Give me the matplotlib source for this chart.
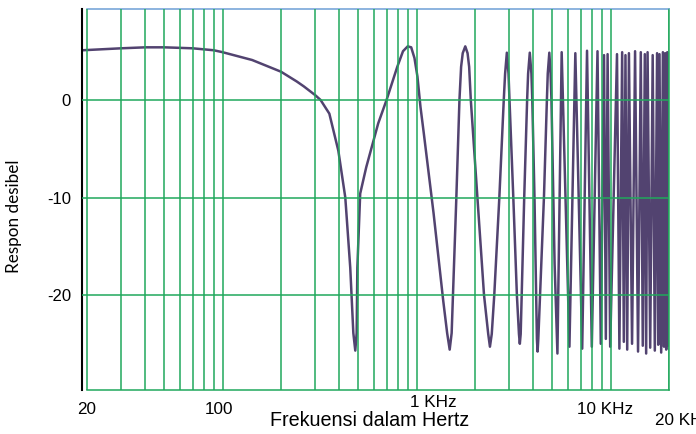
import matplotlib
matplotlib.use('Agg')
import matplotlib.pyplot as plt
from matplotlib.ticker import NullLocator

# response curve (Hz, dB)
freq_hz = [19, 30, 40, 50, 70, 90, 100, 142, 200, 241, 262, 300, 320, 355, 395,
           429, 455, 472, 483, 491, 495, 512, 550, 634, 700, 795, 851, 900, 938,
           975, 1010, 1047, 1089, 1223, 1372, 1437, 1481, 1516, 1601, 1663, 1696,
           1729, 1782, 1831, 1866, 1903, 2058, 2226, 2340, 2388, 2440,
           2514, 2670, 2814, 2859, 2919, 2977, 3012, 3150, 3288, 3370, 3405, 3440,
           3588, 3713, 3757, 3832, 3907, 3948, 4051, 4170, 4204, 4240,
           4535, 4695, 4743, 4832, 4905, 4956, 5145, 5320,
           5595, 6135, 6580, 7140, 7560, 8000, 8560, 8900, 9250, 9450, 9650,
           9950, 10790, 11100, 11470, 11700, 11930, 12180, 12430, 12900, 13370,
           13850, 14310, 14650, 15010, 15250, 15510, 16000, 16480, 16900, 17360,
           17600, 17870, 18230, 18600, 18850, 19120, 19350, 19590, 19800, 19950]
resp_db = [5.1, 5.3, 5.4, 5.4, 5.3, 5.1, 4.9, 4.1, 2.9, 1.9, 1.4, 0.5, 0.0, -1.4, -5.2,
           -10.0, -17.2, -23.9, -25.7, -23.9, -17.2, -9.6, -6.9, -2.4, 0.0, 3.4, 5.0, 5.5, 5.4,
           4.3, 2.4, -0.7, -3.4, -11.6, -20.6, -23.9, -25.6, -23.9, -10.3, 0.0, 3.4,
           4.8, 5.5, 4.8, 3.4, 0.0, -10.0, -20.0, -24.0, -25.3, -24.0,
           -20.0, -10.0, 0.0, 2.7, 4.85, 2.7, 0.0, -9.9, -20.0, -24.0, -25.0, -24.0,
           -9.9, 0.0, 2.7, 4.85, 2.7, 0.0, -9.9, -24.5, -25.8, -24.5,
           -9.9, 0.0, 2.7, 4.85, 2.7, 0.0, -16.8, -26.0,
           4.9, -25.3, 4.8, -25.5, 5.05, -25.3, 5.0, -25.0, 4.6, -24.5, 4.7,
           -25.3, 4.7, -25.5, 4.9, -24.8, 4.6, -25.6, 4.8, -25.0, 5.0,
           -25.8, 4.9, -25.2, 4.7, -26.0, 4.9, -25.4, 4.6, -25.7, 4.8,
           -25.1, 4.7, -25.9, 4.9, -25.3, 4.8, -25.6, 4.9, -25.2, 4.8]

grid_freqs = [20, 30, 40, 50, 60, 70, 80, 90, 100, 200, 300, 400, 500, 600, 700,
              800, 900, 1000, 2000, 3000, 4000, 5000, 6000, 7000, 8000, 9000,
              10000, 20000]
grid_db = [0, -10, -20]
ytick_labels = ['0', '-10', '-20']

xlabels = ['20', '100', '1 KHz', '10 KHz', '20 KHz']
xlabel_pos = [20, 96, 1215, 9354, 16940]
xlabel_y = [-0.05, -0.05, -0.034, -0.05, -0.081]
xlabel_ha = ['center', 'center', 'center', 'center', 'left']

green = '#21a85c'
purple = '#524370'
font = 'Liberation Sans'

fig = plt.figure(figsize=(6.96, 4.34), dpi=100)
ax = fig.add_axes([82/696, 1 - 390/434, 587/696, 381/434])
ax.set_xscale('log')
ax.set_xlim(18.85, 20000)
ax.set_ylim(-29.74, 9.33)

ax.plot(freq_hz, resp_db, color=purple, lw=1.8, zorder=2, solid_joinstyle='round')

for f in grid_freqs:
    ax.axvline(f, color=green, lw=1.1, zorder=3)
for d in grid_db:
    ax.axhline(d, color=green, lw=1.1, zorder=3)

ax.spines['left'].set_color('black')
ax.spines['left'].set_linewidth(1.5)
ax.spines['top'].set_color('#6e9fd6')
ax.spines['top'].set_bounds(20, 20000)
ax.spines['bottom'].set_color(green)
ax.spines['bottom'].set_bounds(20, 20000)
ax.spines['right'].set_color(green)
for s in ['top', 'bottom', 'right']:
    ax.spines[s].set_linewidth(1.1)

ax.xaxis.set_major_locator(NullLocator())
ax.xaxis.set_minor_locator(NullLocator())
ax.set_yticks(grid_db)
ax.set_yticklabels(ytick_labels, fontsize=12, family=font)
ax.tick_params(axis='y', length=0, pad=8)

trans = ax.get_xaxis_transform()
for lab, xp, yp, ha in zip(xlabels, xlabel_pos, xlabel_y, xlabel_ha):
    ax.text(xp, yp, lab, transform=trans, ha=ha, va='center', fontsize=12.3,
            family=font, clip_on=False)
ax.text(575, -0.079, 'Frekuensi dalam Hertz', transform=trans, ha='center',
        va='center', fontsize=14.2, family=font, clip_on=False)

fig.text(14.5/696, 1 - 216/434, 'Respon desibel', rotation=90, ha='center',
         va='center', fontsize=12.3, family='Lato')

fig.savefig('out.png', dpi=100)
